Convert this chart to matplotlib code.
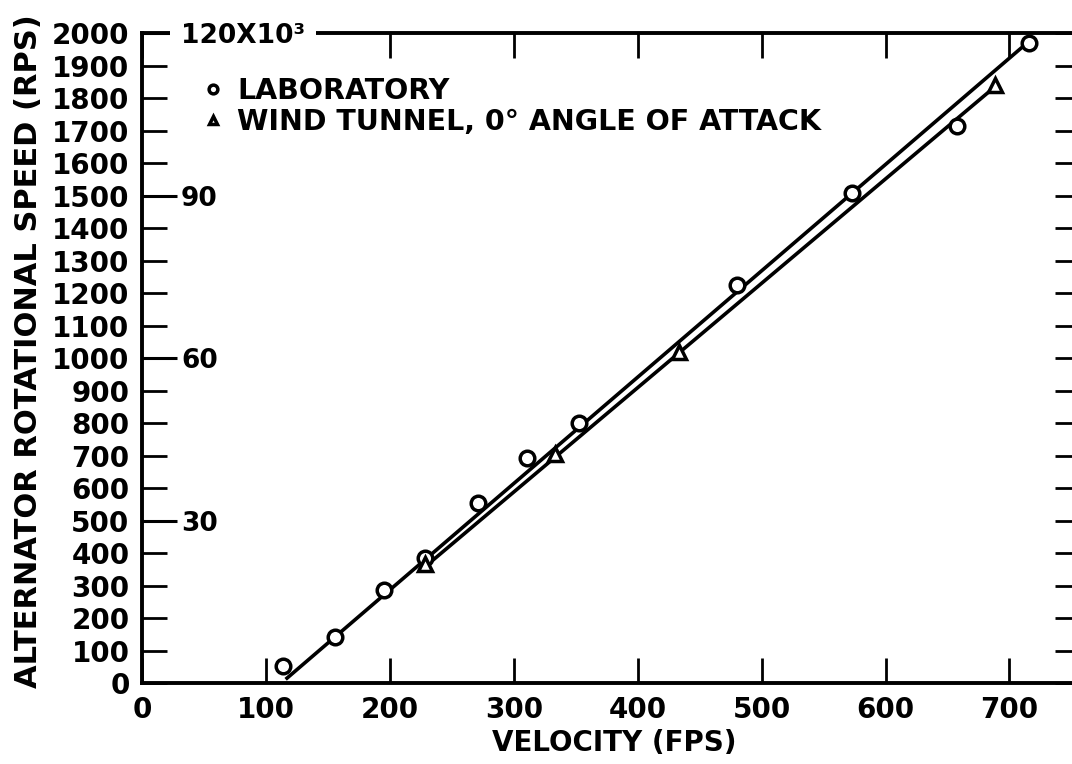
import matplotlib
matplotlib.use("Agg")
from matplotlib import pyplot as plt

# measured points, velocity in ft/s and alternator speed in rev/s
lab_velocity = [114, 156, 195, 228, 271, 311, 353, 480, 573, 658, 716]
lab_rps = [52, 142, 285, 385, 554, 692, 800, 1225, 1508, 1714, 1969]

tunnel_velocity = [228, 333, 433, 688]
tunnel_rps = [365, 705, 1020, 1840]

# faired lines through each set
lab_fit_velocity = [117, 716]
lab_fit_rps = [15, 1975]
tunnel_fit_velocity = [226, 690]
tunnel_fit_rps = [350, 1840]

x_ticks = list(range(0, 800, 100))
y_ticks = list(range(0, 2100, 100))
rpm_ticks = [30, 60, 90, 120]
rpm_labels = ["30", "60", "90", "120X10³"]

plt.rcParams["font.family"] = "DejaVu Sans"
plt.rcParams["font.weight"] = "bold"

fig = plt.figure(figsize=(10.72, 7.64), dpi=100)
ax = fig.add_axes([0.1325, 0.106, 0.875, 0.8508])

ax.plot(lab_fit_velocity, lab_fit_rps, color="black", lw=2.6, zorder=2)
ax.plot(tunnel_fit_velocity, tunnel_fit_rps, color="black", lw=2.6, zorder=2)
ax.plot(lab_velocity, lab_rps, "o", ms=10.5, mew=2.5, mfc="white", mec="black",
        ls="none", zorder=3, label="LABORATORY")
ax.plot(tunnel_velocity, tunnel_rps, "^", ms=10.5, mew=2.5, mfc="white", mec="black",
        ls="none", zorder=3, label="WIND TUNNEL, 0° ANGLE OF ATTACK")

ax.set_xlim(0, 757)
ax.set_ylim(0, 2000)
ax.set_xticks(x_ticks)
ax.set_yticks(y_ticks)
ax.tick_params(axis="both", direction="in", length=18, width=2, top=True, right=True)
ax.tick_params(axis="x", labelsize=20, pad=9)
ax.tick_params(axis="y", labelsize=20, pad=9)
for spine in ax.spines.values():
    spine.set_linewidth(2.8)

ax.set_xlabel("VELOCITY (FPS)", fontsize=20, fontweight="bold")
ax.xaxis.set_label_coords(0.503, -0.092)
ax.xaxis.label.set_va("center")
ax.set_ylabel("ALTERNATOR ROTATIONAL SPEED (RPS)", fontsize=22, fontweight="bold")
ax.yaxis.set_label_coords(-0.1215, 0.51)
ax.yaxis.label.set_va("center")

# second scale in rev/min on the inside of the left axis
sec = ax.secondary_yaxis("left", functions=(lambda r: r * 60 / 1000, lambda m: m * 1000 / 60))
sec.set_zorder(4)
for side in ["left", "right", "top", "bottom"]:
    sec.spines[side].set_visible(False)
sec.set_yticks(rpm_ticks, labels=rpm_labels)
sec.tick_params(direction="in", length=25, width=2.2, left=True, right=False,
                labelleft=False, labelright=True, labelsize=19, pad=28)
# the top label sits across the frame line
sec.yaxis.get_major_ticks()[-1].label2.set_bbox(
    dict(facecolor="white", edgecolor="none", pad=8))

leg = ax.legend(loc="upper left", bbox_to_anchor=(0.053, 0.95), frameon=False,
                fontsize=20.5, markerscale=0.6, handlelength=0.7, handletextpad=0.5,
                labelspacing=0.12, borderaxespad=0)

fig.savefig("out.png", dpi=100)
